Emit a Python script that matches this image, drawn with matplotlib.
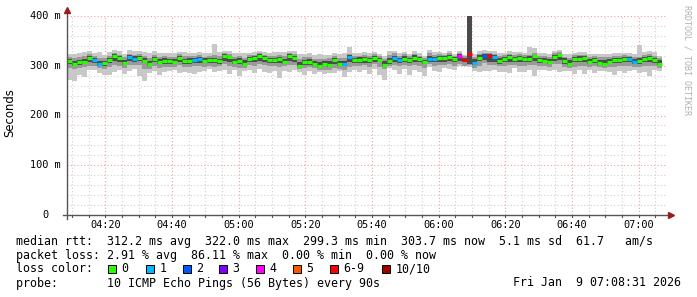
import matplotlib
matplotlib.use("Agg")
import matplotlib.pyplot as plt
import matplotlib.dates as mdates
import matplotlib.transforms as mtransforms
from matplotlib.patches import Rectangle
from matplotlib.lines import Line2D
import pandas as pd

W, H = 697, 297
MONO = "DejaVu Sans Mono"
START = pd.Timestamp("2026-01-09 04:08:31")
END = pd.Timestamp("2026-01-09 07:08:31")
STEP_S = 90

# median rtt per 90 s step (ms)
median = [309, 303, 307, 307, 315, 312, 303, 305, 312, 320, 315, 306, 318, 314, 316, 310, 304, 313, 308, 310,
          309, 307, 315, 309, 310, 312, 313, 310, 311, 312, 309, 320, 317, 307, 310, 304, 314, 315, 320, 315,
          311, 312, 314, 307, 320, 315, 300, 307, 307, 304, 300, 304, 302, 312, 304, 304, 318, 312, 312,
          314, 311, 315, 312, 302, 309, 316, 311, 314, 312, 316, 314, 307, 314, 314, 316, 315, 318, 314, 320, 311,
          323, 305, 316, 319, 320, 317,
          309, 314, 317, 313, 316, 314, 314, 319, 311, 309, 308, 317, 321, 310, 304, 314, 314, 315, 308, 312,
          305, 303, 308, 311, 311, 314, 313, 308, 309, 314, 315, 311, 304]
# lost pings out of 10
loss = [0, 0, 0, 0, 0, 1, 1, 0, 0, 0, 0, 0, 1, 1, 0, 0, 0, 0, 0, 0,
        0, 0, 0, 0, 0, 1, 1, 0, 0, 0, 0, 0, 0, 0, 0, 0, 0, 0, 0, 0,
        0, 0, 0, 0, 0, 0, 0, 0, 0, 0, 0, 0, 0, 0, 0, 1, 1, 0, 0,
        0, 0, 0, 0, 0, 0, 1, 1, 0, 0, 0, 0, 0, 1, 1, 0, 0, 0, 0, 4, 7,
        9, 1, 0, 2, 7, 1,
        0, 0, 0, 0, 0, 0, 0, 0, 0, 0, 0, 0, 0, 0, 0, 0, 0, 0, 0, 0,
        0, 0, 0, 0, 0, 0, 1, 1, 0, 0, 0, 0, 0]
# smoke spread below / above the median (ms): dark core, mid band, outer band
dark_dn = [5, 4, 6, 4, 8, 6, 3, 5, 7, 10, 8, 4, 9, 6, 7, 5, 4, 6, 5, 6,
           5, 4, 8, 5, 6, 7, 8, 5, 6, 7, 5, 10, 9, 4, 6, 3, 7, 8, 10, 8,
           6, 7, 8, 4, 10, 8, 2, 6, 5, 4, 3, 5, 4, 8, 5, 4, 10, 7, 6,
           8, 6, 8, 5, 3, 5, 8, 6, 7, 6, 8, 7, 4, 6, 7, 8, 8, 9, 7, 10, 4,
           20, 4, 7, 8, 12, 9,
           5, 7, 9, 6, 8, 7, 6, 9, 5, 4, 5, 8, 10, 6, 3, 7, 6, 8, 4, 6,
           3, 2, 4, 6, 5, 7, 6, 4, 5, 7, 8, 6, 3]
dark_up = [5, 6, 4, 6, 4, 4, 6, 5, 4, 3, 4, 6, 3, 5, 4, 5, 6, 4, 5, 5,
           5, 6, 4, 5, 5, 4, 4, 5, 4, 4, 5, 3, 3, 6, 5, 7, 4, 4, 3, 4,
           5, 4, 4, 6, 3, 4, 8, 5, 6, 6, 8, 6, 7, 4, 6, 6, 3, 4, 5,
           4, 4, 5, 4, 8, 6, 4, 4, 5, 4, 5, 4, 4, 6, 4, 4, 4, 4, 4, 4, 4,
           90, 8, 6, 5, 4, 5,
           6, 4, 4, 5, 4, 4, 5, 3, 5, 6, 6, 4, 3, 5, 7, 4, 5, 4, 6, 4,
           7, 8, 6, 5, 5, 4, 4, 6, 6, 4, 4, 4, 7]
mid_dn = [14, 10, 12, 10, 16, 12, 8, 11, 14, 18, 15, 10, 16, 13, 14, 16, 10, 13, 12, 12,
          11, 10, 14, 12, 12, 12, 14, 12, 12, 14, 10, 16, 17, 9, 14, 8, 12, 15, 16, 14,
          12, 12, 16, 8, 18, 14, 6, 12, 10, 9, 8, 12, 10, 16, 10, 12, 20, 12, 12,
          13, 14, 12, 15, 8, 10, 14, 12, 13, 13, 14, 14, 12, 10, 14, 14, 14, 15, 14, 16, 12,
          22, 10, 16, 14, 18, 16,
          10, 14, 16, 12, 16, 14, 13, 18, 12, 10, 10, 14, 18, 12, 8, 16, 14, 16, 10, 12,
          8, 8, 10, 14, 12, 14, 14, 10, 12, 14, 16, 12, 8]
mid_up = [9, 12, 10, 12, 8, 8, 12, 10, 8, 6, 7, 12, 6, 8, 8, 10, 12, 8, 10, 10,
          9, 10, 8, 10, 10, 8, 9, 8, 8, 10, 10, 6, 7, 11, 10, 12, 8, 7, 6, 7,
          9, 8, 8, 12, 6, 8, 14, 10, 10, 10, 14, 10, 13, 8, 12, 12, 6, 8, 8,
          8, 8, 8, 7, 12, 12, 9, 8, 10, 8, 8, 6, 8, 11, 8, 8, 6, 8, 6, 6, 8,
          90, 12, 8, 7, 6, 7,
          10, 8, 7, 9, 8, 8, 7, 6, 9, 10, 10, 8, 6, 8, 12, 8, 8, 7, 10, 8,
          12, 14, 10, 8, 8, 8, 7, 10, 9, 8, 8, 8, 12]
out_dn = [38, 34, 26, 30, 24, 20, 18, 24, 30, 32, 24, 22, 28, 20, 36, 40, 18, 24, 26, 22,
          20, 16, 30, 22, 24, 28, 26, 20, 18, 24, 20, 28, 34, 16, 30, 14, 22, 30, 26, 28,
          26, 22, 38, 18, 32, 24, 12, 26, 18, 20, 12, 20, 16, 26, 14, 26, 30, 20, 24,
          22, 28, 22, 30, 30, 14, 24, 28, 20, 30, 24, 26, 28, 16, 24, 28, 20, 24, 22, 20, 12,
          25, 16, 28, 30, 30, 26,
          22, 26, 32, 18, 28, 26, 22, 40, 20, 18, 18, 26, 34, 20, 14, 30, 22, 32, 16, 26,
          16, 14, 20, 30, 22, 28, 24, 16, 24, 26, 36, 20, 14]
out_up = [14, 20, 18, 20, 14, 14, 24, 16, 16, 12, 14, 18, 14, 16, 14, 18, 22, 16, 18, 16,
          16, 18, 12, 18, 16, 14, 14, 16, 14, 32, 18, 10, 12, 18, 16, 22, 12, 12, 10, 12,
          14, 16, 14, 20, 10, 14, 24, 16, 18, 18, 24, 18, 20, 14, 20, 22, 20, 14, 14,
          14, 14, 12, 12, 18, 20, 14, 14, 14, 12, 14, 12, 12, 18, 14, 12, 10, 12, 10, 10, 10,
          90, 18, 14, 12, 10, 12,
          16, 12, 12, 14, 12, 12, 24, 16, 14, 16, 16, 12, 10, 14, 20, 12, 14, 12, 16, 12,
          18, 20, 16, 14, 14, 12, 12, 16, 32, 14, 14, 16, 16]

x_ticks = ["04:20", "04:40", "05:00", "05:20", "05:40", "06:00", "06:20", "06:40", "07:00"]
y_ticks = [0, 100, 200, 300, 400]
y_labels = ["0", "100 m", "200 m", "300 m", "400 m"]
legend_labels = ["0", "1", "2", "3", "4", "5", "6-9", "10/10"]
legend_colors = ["#26ff00", "#00b8ff", "#0059ff", "#7e00ff", "#ff00ff", "#ff5500", "#ff0000", "#a10000"]


def loss_color(n):
    if n <= 5:
        return legend_colors[n]
    return legend_colors[6] if n < 10 else legend_colors[7]


def fx(x):
    return x / W


def fy(y):
    return 1 - y / H


fig = plt.figure(figsize=(W / 100, H / 100), dpi=100)
ax = fig.add_axes([fx(67), fy(215), 600 / W, 199 / H])
ax.set_facecolor("white")
for s in ax.spines.values():
    s.set_visible(False)

t = pd.date_range(START, periods=len(median), freq=f"{STEP_S}s")
tn = mdates.date2num(t)
wd = STEP_S / 86400

# grid
for yv in range(20, 401, 20):
    major = yv % 100 == 0
    ax.axhline(yv, color="#eba0a0" if major else "#d0d0d0", lw=0.8,
               ls=(0, (1, 2)), zorder=0)
for tm in pd.date_range("2026-01-09 04:10", "2026-01-09 07:05", freq="5min"):
    major = tm.minute % 20 == 0
    ax.axvline(mdates.date2num(tm), color="#eba0a0" if major else "#d0d0d0", lw=0.8,
               ls=(0, (1, 2)), zorder=0)

# smoke
for i in range(len(median)):
    m = median[i]
    ax.bar(tn[i], out_dn[i] + out_up[i], bottom=m - out_dn[i], width=wd, align="edge",
           color="#c8c8c8", lw=0, zorder=2)
    ax.bar(tn[i], mid_dn[i] + mid_up[i], bottom=m - mid_dn[i], width=wd, align="edge",
           color="#999999", lw=0, zorder=3)
    ax.bar(tn[i], dark_dn[i] + dark_up[i], bottom=m - dark_dn[i], width=wd, align="edge",
           color="#4a4a4a", lw=0, zorder=4)
    ax.hlines(m, tn[i], tn[i] + wd, color=loss_color(loss[i]), lw=2.3, zorder=5)

ax.set_xlim(mdates.date2num(START), mdates.date2num(END))
ax.set_ylim(0, 400)
ax.set_xticks([])
ax.set_yticks([])

# axis lines with arrow heads
fig.add_artist(Line2D([fx(67), fx(67)], [fy(219), fy(12)], color="#555555", lw=1))
fig.add_artist(Line2D([fx(63), fx(670)], [fy(215), fy(215)], color="#555555", lw=1))
fig.add_artist(Line2D([fx(67)], [fy(10)], marker="^", ms=4, color="#9b1c1c", lw=0))
fig.add_artist(Line2D([fx(671)], [fy(215)], marker=">", ms=4, color="#9b1c1c", lw=0))
for tm in pd.date_range("2026-01-09 04:10", "2026-01-09 07:05", freq="5min"):
    xp = 67 + (tm - START).total_seconds() / 60 * (600 / 180)
    fig.add_artist(Line2D([fx(xp), fx(xp)], [fy(215), fy(217)], color="#555555", lw=0.8))

# tick labels
ytr = mtransforms.blended_transform_factory(fig.transFigure, ax.transData)
for yv, lab in zip(y_ticks, y_labels):
    x0 = 30 if lab != "0" else 42
    ax.text(fx(x0), yv, lab, transform=ytr, family=MONO, fontsize=7.4,
            va="center", ha="left")
xtr = mtransforms.blended_transform_factory(ax.transData, fig.transFigure)
for lab in x_ticks:
    tm = pd.Timestamp(f"2026-01-09 {lab}")
    ax.text(mdates.date2num(tm), fy(225), lab, transform=xtr, family=MONO, fontsize=7.4,
            va="center", ha="center")

fig.text(fx(10), fy(113), "Seconds", rotation=90, fontsize=8.4, va="center", ha="center")
fig.text(fx(687), fy(60), "RRDTOOL / TOBI OETIKER", rotation=270, family=MONO,
         fontsize=6, color="#b0b0b0", va="center", ha="center")

# footer
fig.text(fx(16), fy(241),
         "median rtt:  312.2 ms avg  322.0 ms max  299.3 ms min  303.7 ms now  5.1 ms sd  61.7   am/s",
         family=MONO, fontsize=8.4, va="center")
fig.text(fx(16), fy(255),
         "packet loss: 2.91 % avg  86.11 % max  0.00 % min  0.00 % now",
         family=MONO, fontsize=8.4, va="center")
fig.text(fx(16), fy(269), "loss color:", family=MONO, fontsize=8.4, va="center")
sq_x = [108, 146, 183, 219, 256, 293, 330, 382]
for x0, lab, col in zip(sq_x, legend_labels, legend_colors):
    fig.add_artist(Rectangle((fx(x0), fy(273)), 8 / W, 8 / H, transform=fig.transFigure,
                             facecolor=col, edgecolor="black", lw=0.7))
    fig.text(fx(x0 + 13.5), fy(269), lab, family=MONO, fontsize=8.4, va="center")
fig.text(fx(16), fy(283), "probe:       10 ICMP Echo Pings (56 Bytes) every 90s",
         family=MONO, fontsize=8.4, va="center")
fig.text(fx(513), fy(283), "Fri Jan  9 07:08:31 2026", family=MONO, fontsize=8.4, va="center")

fig.savefig("out.png", dpi=100)
